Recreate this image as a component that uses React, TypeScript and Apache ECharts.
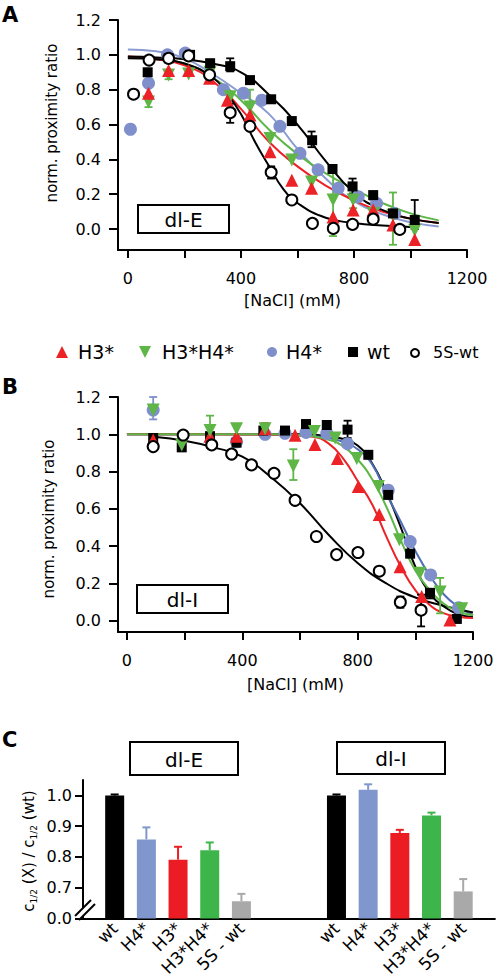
import React, { useEffect, useRef } from 'react';
import * as echarts from 'echarts';

const FONT = 'DejaVu Sans';
const RED = '#ec2227';
const GREEN = '#5db646';
const BLUE = '#7f8fcb';
const BLUE_LINE_A = '#8a9bd2';
const BLUE_LINE_B = '#4d6db4';

// ---------- Panel A (dl-E) ----------
const xTicks = [0, 200, 400, 600, 800, 1000, 1200];
const xLabels = [0, 400, 800, 1200];
const yTicks = [0, 0.2, 0.4, 0.6, 0.8, 1.0, 1.2];

const aWt = [[70, 0.9], [145, 0.98], [220, 1.0], [291, 0.952], [362, 0.935], [432, 0.855], [507, 0.745], [580, 0.62], [652, 0.51], [724, 0.345], [795, 0.245], [868, 0.195], [938, 0.09], [1015, 0.052]];
const aH4 = [[9, 0.573], [73, 0.837], [140, 1.0], [203, 1.01], [338, 0.8], [409, 0.78], [474, 0.74], [538, 0.59], [609, 0.435], [673, 0.34], [744, 0.234], [815, 0.186], [880, 0.148], [944, 0.09]];
const aH3 = [[73, 0.78], [144, 0.91], [215, 0.91], [289, 0.866], [352, 0.74], [432, 0.655], [503, 0.444], [580, 0.28], [650, 0.234], [726, 0.07], [797, 0.11], [868, 0.11], [938, 0.023], [1015, -0.06]];
const aH3H4 = [[73, 0.73], [144, 0.885], [215, 0.89], [291, 0.9], [362, 0.76], [432, 0.7], [503, 0.52], [580, 0.397], [650, 0.27], [726, 0.167], [797, 0.167], [868, 0.09], [938, 0.08], [1015, -0.006]];
const a5S = [[20, 0.774], [75, 0.97], [144, 0.98], [215, 0.994], [289, 0.885], [362, 0.668], [432, 0.59], [507, 0.326], [580, 0.167], [653, 0.033], [727, 0.004], [795, 0.027], [868, 0.057], [962, -0.002]];

const aWtErr = [[362, 0.905, 0.98], [650, 0.47, 0.56], [795, 0.2, 0.29], [868, 0.17, 0.215], [1015, 0.0, 0.167]];
const aH3H4Err = [[73, 0.7, 0.76], [144, 0.86, 0.91], [291, 0.84, 0.95], [432, 0.62, 0.8], [726, -0.04, 0.35], [797, 0.12, 0.21], [938, -0.09, 0.21]];
const a5SErr = [[362, 0.61, 0.72], [507, 0.29, 0.36]];

const aFitWt = [[0, 0.99], [100, 0.985], [200, 0.975], [300, 0.95], [400, 0.9], [500, 0.77], [600, 0.6], [700, 0.39], [800, 0.21], [900, 0.11], [1000, 0.06], [1100, 0.035]];
const aFitH4 = [[0, 1.03], [100, 1.02], [200, 0.98], [300, 0.89], [400, 0.78], [500, 0.66], [600, 0.46], [700, 0.29], [800, 0.16], [900, 0.085], [1000, 0.04], [1100, 0.015]];
const aFitH3 = [[0, 0.99], [100, 0.975], [200, 0.94], [300, 0.85], [400, 0.69], [500, 0.5], [600, 0.36], [700, 0.25], [800, 0.165], [900, 0.1], [1000, 0.06], [1100, 0.035]];
const aFitH3H4 = [[0, 0.985], [100, 0.975], [200, 0.95], [300, 0.87], [400, 0.74], [500, 0.57], [600, 0.43], [700, 0.32], [800, 0.23], [900, 0.15], [1000, 0.09], [1100, 0.05]];
const aFit5S = [[0, 0.98], [100, 0.975], [200, 0.95], [300, 0.87], [350, 0.78], [400, 0.66], [450, 0.5], [500, 0.36], [550, 0.23], [600, 0.15], [700, 0.065], [800, 0.035], [900, 0.02], [1000, 0.012]];

// ---------- Panel B (dl-I) ----------
const bWt = [[91, 0.98], [190, 0.93], [288, 0.99], [380, 0.955], [473, 1.02], [548, 1.02], [621, 1.055], [693, 1.05], [765, 1.025], [837, 0.89], [906, 0.675], [982, 0.36], [1051, 0.15], [1144, 0.01]];
const bH4 = [[91, 1.13], [380, 0.96], [479, 1.0], [548, 1.005], [621, 1.01], [693, 1.005], [765, 0.95], [906, 0.7], [982, 0.425], [1053, 0.246], [1150, 0.07]];
const bH3 = [[91, 0.97], [288, 0.99], [380, 0.99], [479, 1.03], [583, 0.995], [652, 0.945], [730, 0.87], [802, 0.72], [875, 0.57], [947, 0.29], [1022, 0.13], [1120, 0.005]];
const bH3H4 = [[91, 1.13], [190, 0.943], [288, 1.02], [380, 1.03], [479, 1.03], [577, 0.83], [650, 1.015], [722, 0.98], [797, 0.87], [872, 0.72], [945, 0.435], [1016, 0.255], [1086, 0.155], [1161, 0.065]];
const b5S = [[91, 0.934], [195, 0.996], [294, 0.943], [363, 0.894], [432, 0.836], [510, 0.791], [583, 0.646], [657, 0.452], [727, 0.355], [801, 0.366], [875, 0.266], [948, 0.1], [1020, 0.057]];

const bH4Err = [[91, 1.08, 1.2]];
const bH3H4Err = [[288, 1.0, 1.1], [577, 0.755, 0.92], [1086, 0.04, 0.23]];
const bWtErr = [[765, 0.98, 1.073], [1051, 0.12, 0.17]];
const b5SErr = [[948, 0.07, 0.13], [1020, -0.03, 0.14]];
const bH3Err = [[479, 1.0, 1.06]];

const bFitWt = [[0, 1.0], [200, 1.0], [400, 1.0], [600, 1.0], [700, 0.99], [750, 0.975], [800, 0.94], [850, 0.845], [900, 0.69], [950, 0.5], [1000, 0.29], [1050, 0.15], [1100, 0.075], [1150, 0.035], [1200, 0.02]];
const bFitH4 = [[0, 1.0], [200, 1.0], [400, 1.0], [600, 0.995], [700, 0.98], [750, 0.96], [800, 0.92], [850, 0.84], [900, 0.68], [950, 0.53], [1000, 0.375], [1050, 0.243], [1100, 0.14], [1150, 0.075], [1200, 0.03]];
const bFitH3 = [[0, 1.0], [200, 1.0], [400, 0.999], [500, 0.998], [600, 0.993], [650, 0.985], [700, 0.95], [750, 0.87], [800, 0.75], [850, 0.625], [900, 0.45], [950, 0.29], [1000, 0.165], [1050, 0.085], [1100, 0.04], [1150, 0.022], [1200, 0.015]];
const bFitH3H4 = [[0, 1.0], [200, 1.0], [400, 1.0], [500, 1.0], [600, 0.995], [700, 0.97], [750, 0.935], [800, 0.865], [850, 0.76], [900, 0.61], [950, 0.43], [1000, 0.27], [1050, 0.165], [1100, 0.09], [1150, 0.05], [1200, 0.03]];
const bFit5S = [[100, 0.985], [200, 0.965], [300, 0.93], [400, 0.88], [500, 0.77], [600, 0.63], [700, 0.46], [800, 0.31], [900, 0.2], [1000, 0.125], [1100, 0.08], [1200, 0.045]];

// ---------- Panel C ----------
const cCats = ['', 'wt', 'H4*', 'H3*', 'H3*H4*', '5S - wt', '', '', 'wt', 'H4*', 'H3*', 'H3*H4*', '5S - wt', ''];
const cValE = [1.0, 0.857, 0.791, 0.822, 0.656];
const cErrE = [0.003, 0.039, 0.042, 0.025, 0.024];
const cValI = [1.0, 1.018, 0.878, 0.935, 0.688];
const cErrI = [0.003, 0.018, 0.01, 0.009, 0.04];
const cColors = ['#000000', '#8097cd', '#ec1c24', '#3db54a', '#a9a9a9'];
const cTicks = [0.6, 0.7, 0.8, 0.9, 1.0];

function errSeries(data: number[][], color: string, xi: number, yi: number, lowerCap = true) {
  return {
    type: 'custom',
    xAxisIndex: xi,
    yAxisIndex: yi,
    data,
    z: 3,
    silent: true,
    encode: { x: 0, y: [1, 2] },
    renderItem: (params: any, api: any) => {
      const x = api.value(0), lo = api.value(1), hi = api.value(2);
      const a = api.coord([x, lo]);
      const b = api.coord([x, hi]);
      const st = { stroke: color, lineWidth: 1.8 };
      const cap = 4;
      const children: any[] = [
        { type: 'line', shape: { x1: a[0], y1: a[1], x2: b[0], y2: b[1] }, style: st },
        { type: 'line', shape: { x1: b[0] - cap, y1: b[1], x2: b[0] + cap, y2: b[1] }, style: st },
      ];
      if (lowerCap) children.push({ type: 'line', shape: { x1: a[0] - cap, y1: a[1], x2: a[0] + cap, y2: a[1] }, style: st });
      return { type: 'group', children };
    },
  };
}

function curve(data: number[][], color: string, xi: number, yi: number) {
  return {
    type: 'line', data, xAxisIndex: xi, yAxisIndex: yi, showSymbol: false, symbol: 'none',
    smooth: 0.5, silent: true, z: 2,
    lineStyle: { color, width: 2 },
  };
}

function scat(data: number[][], xi: number, yi: number, symbol: string, size: number, color: string, extra: any = {}) {
  return {
    type: 'scatter', data, xAxisIndex: xi, yAxisIndex: yi, symbol, symbolSize: size, z: 4, silent: true,
    itemStyle: { color, opacity: 1 }, ...extra,
  };
}

function openCircles(data: number[][], xi: number, yi: number) {
  return scat(data, xi, yi, 'circle', 11, '#ffffff', { itemStyle: { color: '#ffffff', borderColor: '#000000', borderWidth: 2, opacity: 1 } });
}

function valueX(gridIndex: number, min: number) {
  return {
    type: 'value', gridIndex, min, max: 1200,
    axisLine: { show: true, onZero: false, lineStyle: { color: '#000', width: 2 } },
    axisTick: { show: true, length: 8, lineStyle: { color: '#000', width: 2 }, customValues: xTicks },
    axisLabel: { customValues: xLabels, fontSize: 16, fontFamily: FONT, color: '#000', margin: 20, formatter: (v: number) => String(v) },
    splitLine: { show: false },
    name: '[NaCl] (mM)', nameLocation: 'middle', nameGap: 42,
    nameTextStyle: { fontSize: 16, fontFamily: FONT, color: '#000' },
  };
}

function valueY(gridIndex: number, min: number) {
  return {
    type: 'value', gridIndex, min, max: 1.2,
    axisLine: { show: true, onZero: false, lineStyle: { color: '#000', width: 2 } },
    axisTick: { show: true, length: 9, lineStyle: { color: '#000', width: 2 }, customValues: yTicks },
    axisLabel: { customValues: yTicks, fontSize: 16, fontFamily: FONT, color: '#000', margin: 17, formatter: (v: number) => v.toFixed(1) },
    splitLine: { show: false },
  };
}

export default function App() {
  const ref = useRef<HTMLDivElement>(null);
  useEffect(() => {
    if (!ref.current) return;
    const chart = echarts.init(ref.current, null, { renderer: 'svg' });

    const barData = cCats.map((c, i) => {
      if (i >= 1 && i <= 5) return { value: cValE[i - 1], itemStyle: { color: cColors[i - 1] } };
      if (i >= 8 && i <= 12) return { value: cValI[i - 8], itemStyle: { color: cColors[i - 8] } };
      return '-';
    });
    const errC: any[] = [];
    cValE.forEach((v, k) => errC.push({ value: [k + 1, v, v + cErrE[k]], color: cColors[k] }));
    cValI.forEach((v, k) => errC.push({ value: [k + 8, v, v + cErrI[k]], color: cColors[k] }));

    const txt = (text: string, x: number, y: number, size: number, extra: any = {}) => ({
      type: 'text', x, y, silent: true,
      style: { text, fontSize: size, fontFamily: FONT, fill: '#000', align: 'left', verticalAlign: 'middle', ...extra },
    });
    const box = (x: number, y: number, w: number, h: number, label: string) => ([
      { type: 'rect', shape: { x, y, width: w, height: h }, style: { fill: '#fff', stroke: '#000', lineWidth: 2 }, silent: true, z: 10 },
      { ...txt(label, x + w / 2, y + h / 2 + 1, 20, { align: 'center' }), z: 11 },
    ]);

    const option: any = {
      animation: false,
      backgroundColor: '#ffffff',
      grid: [
        { left: 118, top: 20, width: 349, height: 230 },
        { left: 118, top: 397, width: 355, height: 235 },
        { left: 83, top: 780, width: 414, height: 142 },
      ],
      xAxis: [
        valueX(0, -35),
        { ...valueX(1, -31), nameGap: 44 },
        {
          type: 'category', gridIndex: 2, data: cCats, boundaryGap: false,
          axisLine: { show: true, onZero: false, lineStyle: { color: '#000', width: 2 } },
          axisTick: { show: false },
          axisLabel: { interval: 0, rotate: 45, fontSize: 17, fontFamily: FONT, color: '#000', margin: 7 },
          splitLine: { show: false },
        },
      ],
      yAxis: [
        valueY(0, -0.12),
        valueY(1, -0.06),
        {
          type: 'value', gridIndex: 2, min: 0.6, max: 1.05,
          axisLine: { show: true, onZero: false, lineStyle: { color: '#000', width: 2 } },
          axisTick: { show: true, length: 8, lineStyle: { color: '#000', width: 2 }, customValues: cTicks },
          axisLabel: { customValues: cTicks, fontSize: 16, fontFamily: FONT, color: '#000', margin: 11, formatter: (v: number) => (v < 0.65 ? '0.0' : v.toFixed(1)) },
          splitLine: { show: false },
        },
      ],
      series: [
        // Panel A
        curve(aFitH4, BLUE_LINE_A, 0, 0),
        curve(aFitH3H4, GREEN, 0, 0),
        curve(aFitH3, RED, 0, 0),
        curve(aFitWt, '#000', 0, 0),
        curve(aFit5S, '#000', 0, 0),
        errSeries(aH3H4Err, GREEN, 0, 0),
        errSeries(aWtErr, '#000', 0, 0),
        errSeries(a5SErr, '#000', 0, 0),
        scat(aH4, 0, 0, 'circle', 13, BLUE),
        scat(aH3H4, 0, 0, 'triangle', 13, GREEN, { symbolRotate: 180 }),
        scat(aH3, 0, 0, 'triangle', 13, RED),
        scat(aWt, 0, 0, 'rect', 10, '#000'),
        openCircles(a5S, 0, 0),
        // Panel B
        curve(bFitWt, '#000', 1, 1),
        curve(bFitH4, BLUE_LINE_B, 1, 1),
        curve(bFitH3, RED, 1, 1),
        curve(bFit5S, '#000', 1, 1),
        curve(bFitH3H4, GREEN, 1, 1),
        errSeries(bH4Err, BLUE, 1, 1),
        errSeries(bH3Err, RED, 1, 1),
        errSeries(bWtErr, '#000', 1, 1),
        errSeries(bH3H4Err, GREEN, 1, 1),
        errSeries(b5SErr, '#000', 1, 1),
        scat(bH4, 1, 1, 'circle', 13, BLUE),
        scat(bWt, 1, 1, 'rect', 10, '#000'),
        scat(bH3, 1, 1, 'triangle', 13, RED),
        scat(bH3H4, 1, 1, 'triangle', 13, GREEN, { symbolRotate: 180 }),
        openCircles(b5S, 1, 1),
        // Panel C
        {
          type: 'bar', xAxisIndex: 2, yAxisIndex: 2, data: barData, barWidth: 19, clip: true, silent: true, z: 2,
        },
        {
          type: 'custom', xAxisIndex: 2, yAxisIndex: 2, data: errC, z: 3, silent: true,
          encode: { x: 0, y: [1, 2] },
          renderItem: (params: any, api: any) => {
            const x = api.value(0), lo = api.value(1), hi = api.value(2);
            const a = api.coord([x, lo]);
            const b = api.coord([x, hi]);
            const color = errC[params.dataIndex].color;
            const st = { stroke: color, lineWidth: 2 };
            return {
              type: 'group', children: [
                { type: 'line', shape: { x1: a[0], y1: a[1], x2: b[0], y2: b[1] }, style: st },
                { type: 'line', shape: { x1: b[0] - 4, y1: b[1], x2: b[0] + 4, y2: b[1] }, style: st },
              ],
            };
          },
        },
      ],
      graphic: [
        // panel letters
        txt('A', 2, 15, 21, { fontWeight: 'bold' }),
        txt('B', 2, 387, 21, { fontWeight: 'bold' }),
        txt('C', 2, 740, 21, { fontWeight: 'bold' }),
        // y-axis names
        { type: 'text', x: 52, y: 123, rotation: Math.PI / 2, silent: true, style: { text: 'norm. proximity ratio', fontSize: 15, fontFamily: FONT, fill: '#000', align: 'center', verticalAlign: 'middle' } },
        { type: 'text', x: 49, y: 519, rotation: Math.PI / 2, silent: true, style: { text: 'norm. proximity ratio', fontSize: 15, fontFamily: FONT, fill: '#000', align: 'center', verticalAlign: 'middle' } },
        {
          type: 'text', x: 29, y: 851, rotation: Math.PI / 2, silent: true,
          style: {
            text: '{a|c}{s|1/2}{a| (X) / c}{s|1/2}{a| (wt)}', align: 'center', verticalAlign: 'middle', fill: '#000',
            rich: {
              a: { fontSize: 15, fontFamily: FONT, fill: '#000', lineHeight: 18 },
              s: { fontSize: 9, fontFamily: FONT, fill: '#000', lineHeight: 10, verticalAlign: 'bottom' },
            },
          },
        },
        // boxes
        ...box(138, 205, 91, 28, 'dl-E'),
        ...box(137, 585, 91, 28, 'dl-I'),
        ...box(130, 742, 108, 33, 'dl-E'),
        ...box(337, 742, 108, 32, 'dl-I'),
        // legend
        { type: 'polygon', shape: { points: [[56, 358], [68, 358], [62, 346]] }, style: { fill: RED }, silent: true },
        txt('H3*', 78, 352, 19),
        { type: 'polygon', shape: { points: [[139, 346], [151, 346], [145, 358]] }, style: { fill: GREEN }, silent: true },
        txt('H3*H4*', 162, 352, 19),
        { type: 'circle', shape: { cx: 272, cy: 352, r: 5 }, style: { fill: BLUE }, silent: true },
        txt('H4*', 286, 352, 19),
        { type: 'rect', shape: { x: 348, y: 347, width: 10, height: 10 }, style: { fill: '#000' }, silent: true },
        txt('wt', 367, 352, 19),
        { type: 'circle', shape: { cx: 415, cy: 353, r: 4 }, style: { fill: '#fff', stroke: '#000', lineWidth: 2 }, silent: true },
        txt('5S-wt', 433, 352, 16),
        // axis break marks (panel C)
        { type: 'polygon', shape: { points: [[76, 915], [90, 901], [94, 905], [80, 919]] }, style: { fill: '#fff' }, silent: true, z: 20 },
        { type: 'line', shape: { x1: 75, y1: 916, x2: 91, y2: 900 }, style: { stroke: '#000', lineWidth: 2 }, silent: true, z: 21 },
        { type: 'line', shape: { x1: 79, y1: 920, x2: 95, y2: 904 }, style: { stroke: '#000', lineWidth: 2 }, silent: true, z: 21 },
      ],
    };
    chart.setOption(option);
    return () => chart.dispose();
  }, []);
  return <div ref={ref} style={{ position: 'absolute', left: 0, top: 0, width: 497, height: 979, background: '#fff' }} />;
}
